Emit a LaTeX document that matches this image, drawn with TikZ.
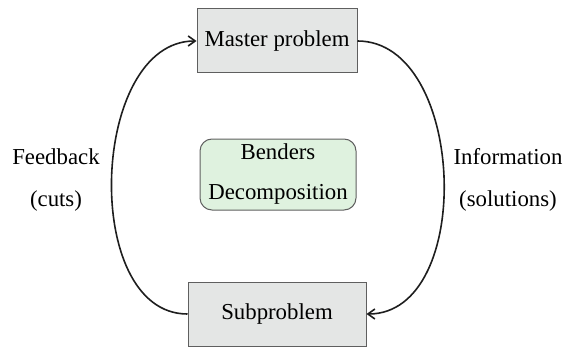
\documentclass[tikz,border=0pt]{standalone}
\usepackage{fontspec}
\setmainfont{Liberation Serif}
\usetikzlibrary{arrows.meta,positioning}

\definecolor{boxgray}{RGB}{228,230,229}
\definecolor{boxgreen}{RGB}{223,242,223}
\definecolor{edgegray}{RGB}{95,95,95}
\definecolor{loopdark}{RGB}{30,30,30}

\begin{document}
\begin{tikzpicture}[x=0.5pt,y=-0.5pt,
    font=\fontsize{11.4}{21}\selectfont,
    probbox/.style={draw=edgegray, line width=0.5pt, fill=boxgray, minimum height=32pt, inner sep=0pt},
    centerbox/.style={draw=edgegray, line width=0.5pt, fill=boxgreen, rounded corners=6pt, align=center, minimum width=78pt, minimum height=35.5pt, inner sep=0pt},
    flow/.style={draw=loopdark, line width=0.8pt, -{Straight Barb[length=3.5pt,width=5pt]}},
    lbl/.style={align=center}]
  \useasboundingbox (0,0) rectangle (565,347);

  % Boxes
  \node[probbox, minimum width=80pt] (master) at (277,41) {Master problem};
  \node[probbox, minimum width=89pt] (sub) at (277,314) {Subproblem};
  \node[centerbox] (benders) at (278,174.5) {\raisebox{-1pt}{Benders}\\Decomposition};

  % Side labels
  \node[lbl] (feedback) at (56,180) {Feedback\\(cuts)};
  \node[lbl] (info) at (508,180) {Information\\(solutions)};

  % Loop
  \draw[flow] (master.east) to[out=0,in=0,looseness=1.02] (sub.east);
  \draw[flow] (sub.west) to[out=180,in=180,looseness=1.0] (master.west);
\end{tikzpicture}
\end{document}
